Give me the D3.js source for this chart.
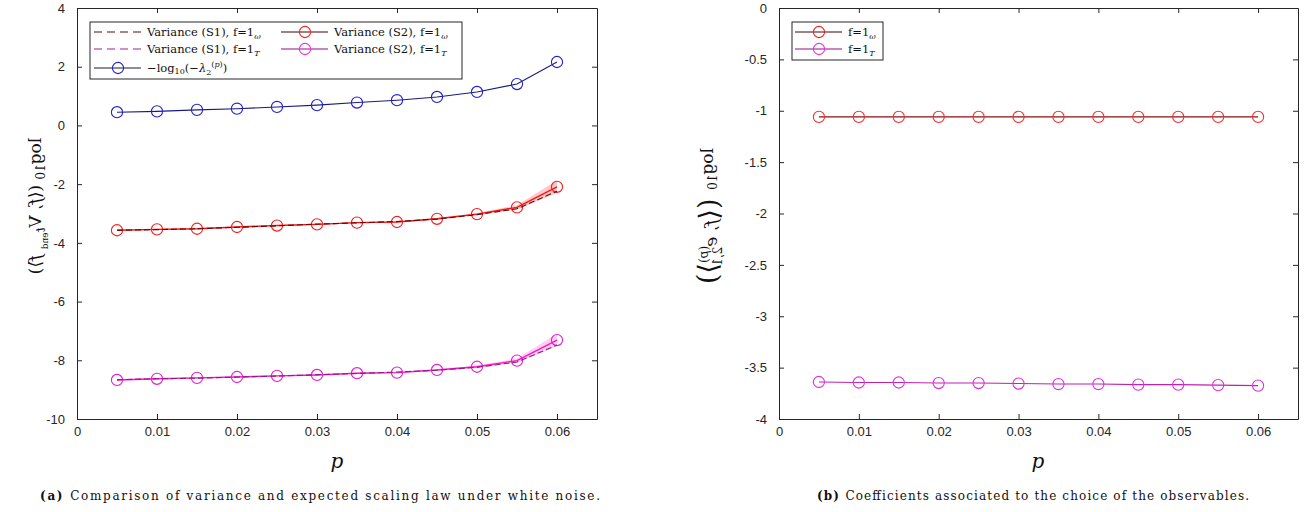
<!DOCTYPE html>
<html>
<head>
<meta charset="utf-8">
<script src="https://cdn.jsdelivr.net/npm/d3@7"></script>
<style>
  body { margin: 0; background: #fff; }
  svg { display: block; }
  .tick text { font-family: "Liberation Sans", Arial, sans-serif; font-size: 13px; fill: #262626; }
  .tick line, .domain { stroke: #262626; }
</style>
</head>
<body>
<svg id="fig" width="1311" height="512"></svg>
<script>
// p values (shared by both panels)
const pVals = [0.005, 0.01, 0.015, 0.02, 0.025, 0.03, 0.035, 0.04, 0.045, 0.05, 0.055, 0.06];

// panel (a)
const lambdaLog = [0.45, 0.48, 0.53, 0.57, 0.63, 0.69, 0.78, 0.86, 0.97, 1.14, 1.41, 2.16];
const varS2Omega = [-3.57, -3.54, -3.52, -3.46, -3.41, -3.37, -3.31, -3.29, -3.18, -3.02, -2.79, -2.09];
const varS1Omega = [-3.57, -3.55, -3.52, -3.47, -3.42, -3.36, -3.32, -3.27, -3.19, -3.04, -2.84, -2.24];
const bandOmegaLo = [-3.59, -3.56, -3.54, -3.48, -3.43, -3.39, -3.33, -3.31, -3.21, -3.06, -2.86, -2.30];
const bandOmegaHi = [-3.55, -3.52, -3.50, -3.44, -3.39, -3.35, -3.29, -3.27, -3.15, -2.98, -2.72, -1.88];
const varS2T = [-8.67, -8.63, -8.60, -8.57, -8.53, -8.50, -8.44, -8.42, -8.33, -8.22, -8.01, -7.31];
const varS1T = [-8.66, -8.63, -8.61, -8.57, -8.54, -8.49, -8.45, -8.40, -8.34, -8.24, -8.06, -7.48];
const bandTLo = [-8.69, -8.65, -8.62, -8.59, -8.55, -8.52, -8.46, -8.44, -8.36, -8.26, -8.08, -7.52];
const bandTHi = [-8.65, -8.61, -8.58, -8.55, -8.51, -8.48, -8.42, -8.40, -8.30, -8.18, -7.94, -7.10];

// panel (b)
const coefOmega = [-1.06, -1.06, -1.06, -1.06, -1.06, -1.06, -1.06, -1.06, -1.06, -1.06, -1.06, -1.06];
const coefT = [-3.64, -3.645, -3.645, -3.65, -3.65, -3.655, -3.66, -3.66, -3.665, -3.665, -3.67, -3.675];

// tick labels
const xTicks = [0, 0.01, 0.02, 0.03, 0.04, 0.05, 0.06];
const yTicksA = [-10, -8, -6, -4, -2, 0, 2, 4];
const yTicksB = [-4, -3.5, -3, -2.5, -2, -1.5, -1, -0.5, 0];

const SERIF = "'DejaVu Serif', 'Liberation Serif', serif";
const svg = d3.select("#fig");
const yTop = 8, yBottom = 419;

function panel(x0, x1, yDomain, yTicks) {
    const x = d3.scaleLinear().domain([0, 0.065]).range([x0, x1]);
    const y = d3.scaleLinear().domain(yDomain).range([yBottom, yTop]);
    const g = svg.append("g");
    g.append("g").attr("transform", "translate(0," + yBottom + ")")
        .call(d3.axisBottom(x).tickValues(xTicks).tickFormat(d => d === 0 ? "0" : d3.format(".2f")(d))
            .tickSizeInner(-5).tickSizeOuter(0).tickPadding(8));
    g.append("g").attr("transform", "translate(" + x0 + ",0)")
        .call(d3.axisLeft(y).tickValues(yTicks).tickFormat(d => String(d))
            .tickSizeInner(-5).tickSizeOuter(0).tickPadding(12));
    g.append("g").attr("transform", "translate(0," + yTop + ")")
        .call(d3.axisTop(x).tickValues(xTicks).tickFormat("").tickSizeInner(-5).tickSizeOuter(0));
    g.append("g").attr("transform", "translate(" + x1 + ",0)")
        .call(d3.axisRight(y).tickValues(yTicks).tickFormat("").tickSizeInner(-5).tickSizeOuter(0));
    return {x, y, g};
}

function series(pn, vals, opts) {
    const line = d3.line().x((d, i) => pn.x(pVals[i])).y(d => pn.y(d));
    pn.g.append("path").datum(vals).attr("d", line)
        .attr("fill", "none").attr("stroke", opts.stroke).attr("stroke-width", opts.width || 1.1)
        .attr("stroke-dasharray", opts.dash || null);
    if (opts.marker) {
        pn.g.selectAll(null).data(vals).enter().append("circle")
            .attr("cx", (d, i) => pn.x(pVals[i])).attr("cy", d => pn.y(d)).attr("r", 5.6)
            .attr("fill", "none").attr("stroke", opts.marker).attr("stroke-width", 1.1);
    }
}

function band(pn, lo, hi, color) {
    const area = d3.area().x((d, i) => pn.x(pVals[i])).y0((d, i) => pn.y(lo[i])).y1((d, i) => pn.y(hi[i]));
    pn.g.append("path").datum(lo).attr("d", area).attr("fill", color).attr("fill-opacity", 0.25).attr("stroke", "none");
}

// ---------- panel (a)
const A = panel(77, 597, [-10, 4], yTicksA);
band(A, bandOmegaLo, bandOmegaHi, "#ff2020");
band(A, bandTLo, bandTHi, "#ff40c0");
series(A, lambdaLog, {stroke: "#1a1a80", marker: "#2020d0"});
series(A, varS2Omega, {stroke: "#ff1010", width: 1.4, marker: "#f02020"});
series(A, varS1Omega, {stroke: "#5a0a0a", dash: "6,3"});
series(A, varS2T, {stroke: "#ff10d0", width: 1.4, marker: "#e020d0"});
series(A, varS1T, {stroke: "#8a2070", dash: "6,3"});

// ---------- panel (b)
const B = panel(779, 1298, [-4, 0], yTicksB);
series(B, coefOmega, {stroke: "#8a1010", marker: "#f03030"});
series(B, coefT, {stroke: "#c020b0", marker: "#e030e0"});

// ---------- legends
function stext(x, y, size) {
    return svg.append("text").attr("x", x).attr("y", y).style("font-family", SERIF)
        .attr("font-size", size).attr("fill", "#111");
}
function legendRow(g, lx, ly, item) {
    g.append("line").attr("x1", lx).attr("x2", lx + 47).attr("y1", ly).attr("y2", ly)
        .attr("stroke", item.stroke).attr("stroke-width", 1.2).attr("stroke-dasharray", item.dash || null);
    if (item.marker) g.append("circle").attr("cx", lx + 24).attr("cy", ly).attr("r", 5.6)
        .attr("fill", "none").attr("stroke", item.marker).attr("stroke-width", 1.1);
    item.label(stext(lx + 53, ly + 4, 11.5));
}
function fLabel(prefix, sub) {
    return t => {
        t.append("tspan").text(prefix);
        t.append("tspan").attr("font-size", 8).attr("dy", 3).attr("font-style", "italic").text(sub);
    };
}

const legA = svg.append("g");
legA.append("rect").attr("x", 90).attr("y", 22).attr("width", 372).attr("height", 57)
    .attr("fill", "#fff").attr("stroke", "#262626").attr("stroke-width", 1);
legendRow(legA, 94, 32, {stroke: "#5a0a0a", dash: "8,5", label: fLabel("Variance (S1), f=1", "ω")});
legendRow(legA, 94, 49, {stroke: "#a02090", dash: "8,5", label: fLabel("Variance (S1), f=1", "T")});
legendRow(legA, 94, 68, {stroke: "#1a1a40", marker: "#2020d0", label: t => {
    t.append("tspan").text("−log");
    t.append("tspan").attr("font-size", 8).attr("dy", 2).text("10");
    t.append("tspan").attr("dy", -2).text("(−");
    t.append("tspan").attr("font-style", "italic").text("λ");
    t.append("tspan").attr("font-size", 8).attr("dy", 3).text("2");
    t.append("tspan").attr("font-size", 8).attr("dy", -8).text("(");
    t.append("tspan").attr("font-size", 8).attr("font-style", "italic").text("p");
    t.append("tspan").attr("font-size", 8).text(")");
    t.append("tspan").attr("dy", 5).text(")");
}});
legendRow(legA, 281, 32, {stroke: "#3a0808", marker: "#f02020", label: fLabel("Variance (S2), f=1", "ω")});
legendRow(legA, 281, 49, {stroke: "#8a1080", marker: "#f030e0", label: fLabel("Variance (S2), f=1", "T")});

const legB = svg.append("g");
legB.append("rect").attr("x", 792).attr("y", 22).attr("width", 91).attr("height", 38)
    .attr("fill", "#fff").attr("stroke", "#262626").attr("stroke-width", 1);
legendRow(legB, 795, 32, {stroke: "#3a0808", marker: "#f02020", label: fLabel("f=1", "ω")});
legendRow(legB, 795, 49, {stroke: "#8a1080", marker: "#f030e0", label: fLabel("f=1", "T")});

// ---------- axis labels
stext(337, 468, 20).attr("text-anchor", "middle").attr("font-style", "italic").text("p");
stext(1038, 468, 20).attr("text-anchor", "middle").attr("font-style", "italic").text("p");

// the y labels are mirrored in the original figure
const yl = stext(0, 0, 17).attr("text-anchor", "middle")
    .attr("transform", "translate(41,206) rotate(90) scale(1,-1)");
yl.append("tspan").text("log");
yl.append("tspan").attr("font-size", 12).attr("dy", 4).text("10");
yl.append("tspan").attr("dy", -4).text(" (⟨");
yl.append("tspan").attr("font-style", "italic").text("f");
yl.append("tspan").text(", V");
yl.append("tspan").attr("font-size", 12).attr("dy", 4).attr("font-style", "italic").text("t");
yl.append("tspan").attr("font-size", 9).attr("dy", 3).text("end");
yl.append("tspan").attr("dy", -7).text(" ");
yl.append("tspan").attr("font-style", "italic").text("f");
yl.append("tspan").text("⟩)");

const yr = stext(0, 0, 17).attr("text-anchor", "middle")
    .attr("transform", "translate(713,216) rotate(90) scale(1,-1)");
yr.append("tspan").text("log");
yr.append("tspan").attr("font-size", 12).attr("dy", 4).text("10");
yr.append("tspan").attr("font-size", 27).attr("dy", 1).text(" (⟨");
yr.append("tspan").attr("font-style", "italic").attr("dy", -1).text("f");
yr.append("tspan").text(", ");
yr.append("tspan").attr("font-style", "italic").text("e");
yr.append("tspan").attr("font-size", 12).attr("dy", 5).text("2,1");
yr.append("tspan").attr("font-size", 12).attr("dx", -20).attr("dy", -14).text("(");
yr.append("tspan").attr("font-size", 12).attr("font-style", "italic").text("p");
yr.append("tspan").attr("font-size", 12).text(")");
yr.append("tspan").attr("font-size", 27).attr("dy", 9).text("⟩)");

// ---------- captions
function caption(cx, len, tag, body) {
    const t = stext(cx, 500, 12).attr("text-anchor", "middle")
        .attr("textLength", len).attr("lengthAdjust", "spacing");
    t.append("tspan").attr("font-weight", "bold").text(tag + " ");
    t.append("tspan").text(body);
}
caption(320, 560, "(a)", "Comparison of variance and expected scaling law under white noise.");
caption(1033, 432, "(b)", "Coefficients associated to the choice of the observables.");
</script>
</body>
</html>
